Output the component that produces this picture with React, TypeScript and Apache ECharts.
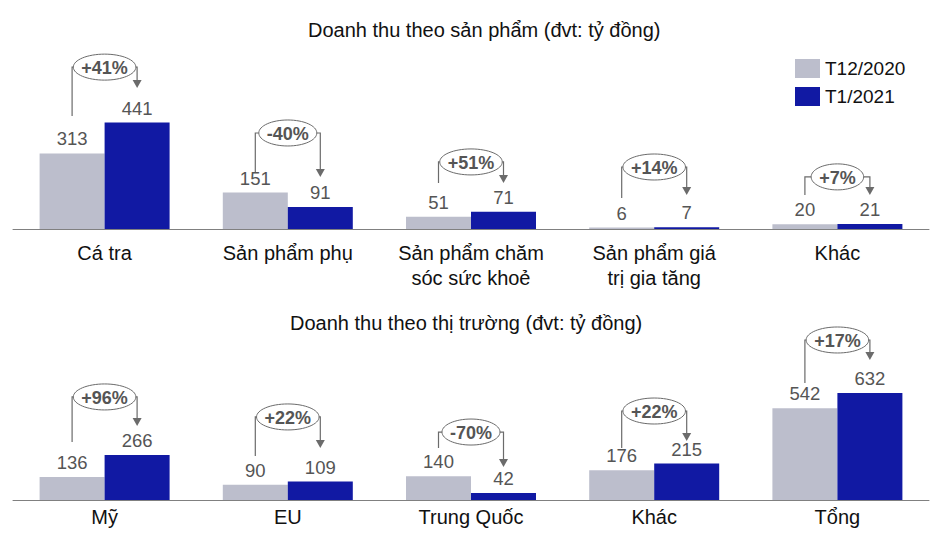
import React, { useEffect, useRef } from "react";
import * as echarts from "echarts";

const FONT = "'Liberation Sans', Arial, Helvetica, sans-serif";

// Top chart: revenue by product
const productCategories = [
  "Cá tra",
  "Sản phẩm phụ",
  "Sản phẩm chăm\nsóc sức khoẻ",
  "Sản phẩm giá\ntrị gia tăng",
  "Khác",
];
const productPrev = [313, 151, 51, 6, 20];
const productCurr = [441, 91, 71, 7, 21];
const productChange = ["+41%", "-40%", "+51%", "+14%", "+7%"];
const productBubbleLevel = [671, 398, 278, 257, 216];
const productLeftLevel = [468, 236, 191, 128, 141];
const productArrowLevel = [584, 216, 191, 141, 141];

// Bottom chart: revenue by market
const marketCategories = ["Mỹ", "EU", "Trung Quốc", "Khác", "Tổng"];
const marketPrev = [136, 90, 140, 176, 542];
const marketCurr = [266, 109, 42, 215, 632];
const marketChange = ["+96%", "+22%", "-70%", "+22%", "+17%"];
const marketBubbleLevel = [608, 490, 401, 525, 944];
const marketLeftLevel = [342, 260, 307, 307, 690];
const marketArrowLevel = [437, 307, 195, 348, 826];

const seriesNames = ["T12/2020", "T1/2021"];
const GREY = "#BCBECC";
const BLUE = "#1119A3";
const BAR_W = 65;
const PCT_SIZE = 18;

const CHAR_W: Record<string, number> = { "+": 0.584, "-": 0.333, "%": 0.889 };
function textWidth(t: string) {
  let w = 0;
  for (const c of t) w += CHAR_W[c] ?? 0.556;
  return w * PCT_SIZE;
}

function annotationData(bubble: number[], left: number[], arrow: number[]) {
  return bubble.map((b, i) => [i, b, left[i], arrow[i]]);
}

function makeRenderer(labels: string[]) {
  return function renderAnnotation(params: any, api: any) {
    const i = api.value(0);
    const xc = api.coord([i, 0])[0];
    const ey = api.coord([i, api.value(1)])[1];
    const ly = api.coord([i, api.value(2)])[1];
    const ay = api.coord([i, api.value(3)])[1];
    const text = labels[params.dataIndex];
    const gx = xc - BAR_W / 2;
    const bx = xc + BAR_W / 2;
    const rx = textWidth(text) / 2 + 8;
    const ry = 13;
    const stroke = "#6b6b6b";
    const leftPts: number[][] = [[gx, ly], [gx, ey]];
    if (xc - rx > gx) leftPts.push([xc - rx, ey]);
    const rightPts: number[][] = [];
    if (xc + rx < bx) rightPts.push([xc + rx, ey]);
    rightPts.push([bx, ey], [bx, ay - 7]);
    return {
      type: "group",
      children: [
        { type: "polyline", shape: { points: leftPts }, style: { stroke, lineWidth: 1.2, fill: null } },
        { type: "polyline", shape: { points: rightPts }, style: { stroke, lineWidth: 1.2, fill: null } },
        {
          type: "polygon",
          shape: { points: [[bx - 4.5, ay - 8], [bx + 4.5, ay - 8], [bx, ay]] },
          style: { fill: stroke },
        },
        {
          type: "ellipse",
          shape: { cx: xc, cy: ey, rx, ry },
          style: { fill: "#ffffff", stroke, lineWidth: 1 },
        },
        {
          type: "text",
          style: {
            text,
            x: xc,
            y: ey + 1,
            align: "center",
            verticalAlign: "middle",
            fontSize: PCT_SIZE,
            fontWeight: "bold",
            fontFamily: FONT,
            fill: "#555555",
          },
        },
      ],
    };
  };
}

export default function App() {
  const ref = useRef<HTMLDivElement>(null);
  useEffect(() => {
    if (!ref.current) return;
    const chart = echarts.init(ref.current, null, { renderer: "svg" });
    const valueLabel = {
      show: true,
      position: "top",
      distance: 5,
      color: "#555555",
      fontSize: 18.5,
      fontFamily: FONT,
    };
    const xAxisCommon = {
      type: "category",
      axisTick: { show: false },
      axisLine: { lineStyle: { color: "#808080", width: 1 } },
    };
    const titleStyle = { fontSize: 20, fontWeight: "normal", color: "#111", fontFamily: FONT };
    const option: any = {
      animation: false,
      textStyle: { fontFamily: FONT },
      title: [
        { text: "Doanh thu theo sản phẩm (đvt: tỷ đồng)", left: 303, top: 15, textStyle: titleStyle },
        { text: "Doanh thu theo thị trường (đvt: tỷ đồng)", left: 285, top: 308, textStyle: titleStyle },
      ],
      legend: {
        data: seriesNames,
        orient: "vertical",
        left: 795,
        top: 59,
        padding: 0,
        itemWidth: 25,
        itemHeight: 19,
        itemGap: 9,
        icon: "rect",
        selectedMode: false,
        textStyle: { fontSize: 19, color: "#111", fontFamily: FONT },
      },
      grid: [
        { left: 13, right: 12, top: 36, height: 193 },
        { left: 13, right: 12, top: 330.5, height: 169.5 },
      ],
      xAxis: [
        {
          ...xAxisCommon,
          gridIndex: 0,
          data: productCategories,
          axisLabel: { interval: 0, margin: 11, fontSize: 20, lineHeight: 25, color: "#111", fontFamily: FONT },
        },
        {
          ...xAxisCommon,
          gridIndex: 1,
          data: marketCategories,
          axisLabel: { interval: 0, margin: 4, fontSize: 20, lineHeight: 25, color: "#111", fontFamily: FONT },
        },
      ],
      yAxis: [
        { type: "value", gridIndex: 0, min: 0, max: 800, show: false },
        { type: "value", gridIndex: 1, min: 0, max: 1000, show: false },
      ],
      series: [
        {
          name: seriesNames[0], type: "bar", xAxisIndex: 0, yAxisIndex: 0, data: productPrev,
          barWidth: BAR_W, barGap: "0%", itemStyle: { color: GREY }, label: valueLabel,
        },
        {
          name: seriesNames[1], type: "bar", xAxisIndex: 0, yAxisIndex: 0, data: productCurr,
          barWidth: BAR_W, barGap: "0%", itemStyle: { color: BLUE }, label: valueLabel,
        },
        {
          name: seriesNames[0], type: "bar", xAxisIndex: 1, yAxisIndex: 1, data: marketPrev,
          barWidth: BAR_W, barGap: "0%", itemStyle: { color: GREY }, label: valueLabel,
        },
        {
          name: seriesNames[1], type: "bar", xAxisIndex: 1, yAxisIndex: 1, data: marketCurr,
          barWidth: BAR_W, barGap: "0%", itemStyle: { color: BLUE }, label: valueLabel,
        },
        {
          type: "custom", xAxisIndex: 0, yAxisIndex: 0, clip: false, z: 10,
          renderItem: makeRenderer(productChange),
          data: annotationData(productBubbleLevel, productLeftLevel, productArrowLevel),
        },
        {
          type: "custom", xAxisIndex: 1, yAxisIndex: 1, clip: false, z: 10,
          renderItem: makeRenderer(marketChange),
          data: annotationData(marketBubbleLevel, marketLeftLevel, marketArrowLevel),
        },
      ],
    };
    chart.setOption(option);
    return () => chart.dispose();
  }, []);
  return (
    <div
      ref={ref}
      style={{ position: "fixed", left: 0, top: 0, width: 941, height: 542, background: "#fff" }}
    />
  );
}
